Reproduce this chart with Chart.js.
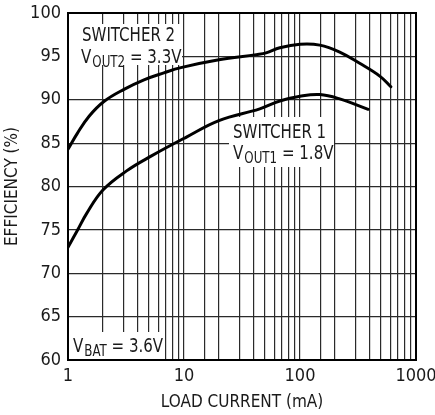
<!DOCTYPE html>
<html>
<head>
<meta charset="utf-8">
<script src="https://cdn.jsdelivr.net/npm/chart.js@4.4.0/dist/chart.umd.min.js"></script>
<style>
  html, body { margin: 0; padding: 0; background: #fff; }
  #wrap { width: 435px; height: 415px; position: relative; }
</style>
</head>
<body>
<div id="wrap"><canvas id="c" width="435" height="415"></canvas></div>
<script>
// ---- data ----
const loadCurrent2 = [1, 1.2, 1.52, 2.04, 3.04, 4.52, 6.7, 9.4, 20, 42, 51, 67, 100, 148, 220, 327, 490, 607];
const efficiency2  = [84.3, 86.1, 88.1, 89.8, 91.2, 92.3, 93.1, 93.7, 94.6, 95.2, 95.4, 96.0, 96.4, 96.3, 95.5, 94.2, 92.7, 91.5];
const loadCurrent1 = [1, 1.2, 1.45, 2, 3.2, 5.2, 10.5, 20, 45, 67, 100, 148, 220, 387];
const efficiency1  = [73.0, 74.9, 76.9, 79.6, 81.8, 83.5, 85.7, 87.6, 88.95, 89.85, 90.4, 90.6, 90.1, 88.9];
const xTickLabels = [1, 10, 100, 1000];
const yTickValues = [60, 65, 70, 75, 80, 85, 90, 95, 100];
const seriesNames = ['SWITCHER 1', 'SWITCHER 2'];

const FONT = "'DejaVu Sans Condensed', 'Liberation Sans', sans-serif";
const INK = '#1a1a1a';

function pts(xs, ys) { return xs.map((x, i) => ({ x: x, y: ys[i] })); }

const labelPlugin = {
  id: 'labels',
  beforeDatasetsDraw(chart) {
    const ctx = chart.ctx;
    const a = chart.chartArea;
    ctx.save();
    ctx.fillStyle = '#fff';
    // white boxes behind labels
    ctx.fillRect(a.left, a.top + 11, 114, 41);
    ctx.fillRect(a.left + 161, a.top + 104, 105, 50);
    ctx.fillRect(a.left, a.bottom - 28, 96, 28);
    ctx.fillStyle = INK;
    ctx.textBaseline = 'alphabetic';
    ctx.textAlign = 'left';
    const SX = 0.88;
    function txt(s, x, y, size) {
      ctx.save();
      ctx.font = size + 'px ' + FONT;
      ctx.translate(x, y);
      ctx.scale(SX, 1);
      ctx.fillText(s, 0, 0);
      const w = ctx.measureText(s).width * SX;
      ctx.restore();
      return w;
    }
    function subText(x, y, main, sub, rest) {
      let w = txt(main, x, y, 19);
      w += txt(sub, x + w + 1, y + 4, 15) + 1;
      txt(rest, x + w, y, 19);
    }
    txt(seriesNames[1], a.left + 14, a.top + 28, 19);
    subText(a.left + 13, a.top + 50, 'V', 'OUT2', ' = 3.3V');
    txt(seriesNames[0], a.left + 165, a.top + 125, 19);
    subText(a.left + 165, a.top + 146, 'V', 'OUT1', ' = 1.8V');
    subText(a.left + 5, a.bottom - 8, 'V', 'BAT', ' = 3.6V');
    ctx.restore();
  },
  afterDraw(chart) {
    const ctx = chart.ctx;
    const a = chart.chartArea;
    ctx.save();
    ctx.strokeStyle = '#000';
    ctx.lineWidth = 2;
    ctx.strokeRect(a.left, a.top, a.right - a.left, a.bottom - a.top);
    ctx.restore();
  }
};

new Chart(document.getElementById('c'), {
  type: 'line',
  data: {
    datasets: [
      { label: seriesNames[1], data: pts(loadCurrent2, efficiency2), borderColor: '#000', borderWidth: 3, pointRadius: 0, fill: false, tension: 0.4, borderCapStyle: 'round' },
      { label: seriesNames[0], data: pts(loadCurrent1, efficiency1), borderColor: '#000', borderWidth: 3, pointRadius: 0, fill: false, tension: 0.4, borderCapStyle: 'round' }
    ]
  },
  options: {
    responsive: false,
    animation: false,
    devicePixelRatio: 1,
    layout: { padding: { left: 0, right: 19, top: 13, bottom: 0 } },
    plugins: { legend: { display: false }, tooltip: { enabled: false } },
    scales: {
      x: {
        type: 'logarithmic',
        min: 1, max: 1000,
        afterFit(s) { s.height = 55; s.paddingLeft = 0; s.paddingRight = 0; },
        grid: { color: '#2a2a2a', lineWidth: 1.2, drawTicks: false },
        border: { display: false },
        ticks: {
          autoSkip: false, maxRotation: 0, padding: 6,
          color: INK, font: { family: FONT, size: 18 },
          callback(v) { return xTickLabels.includes(v) ? String(v) : ''; }
        },
        title: { display: true, text: 'LOAD CURRENT (mA)', color: INK, font: { family: FONT, size: 17 }, padding: { top: 0, bottom: 2 } }
      },
      y: {
        min: 60, max: 100,
        afterFit(s) { s.width = 68; s.paddingTop = 0; s.paddingBottom = 0; },
        afterBuildTicks(s) { s.ticks = yTickValues.map(v => ({ value: v })); },
        grid: { color: '#2a2a2a', lineWidth: 1.2, drawTicks: false },
        border: { display: false },
        ticks: { padding: 7, color: INK, font: { family: FONT, size: 18 } },
        title: { display: true, text: 'EFFICIENCY (%)', color: INK, font: { family: FONT, size: 17 }, padding: { top: 2, bottom: 0 } }
      }
    }
  },
  plugins: [labelPlugin]
});
</script>
</body>
</html>
